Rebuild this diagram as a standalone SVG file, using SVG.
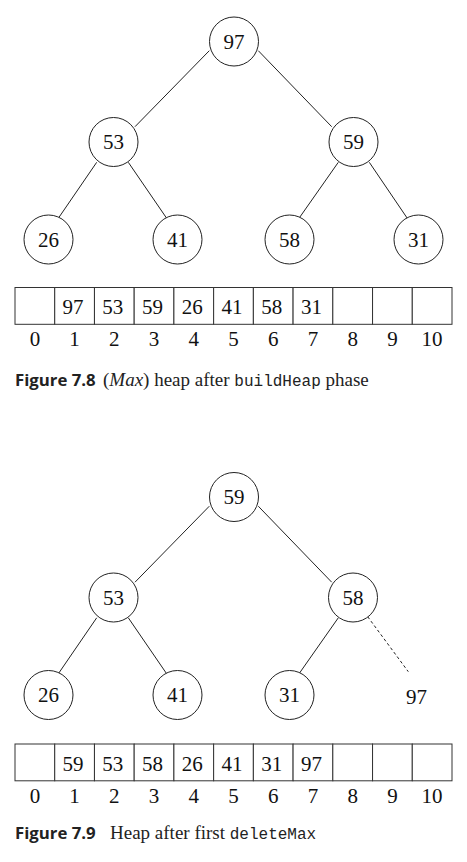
<svg xmlns="http://www.w3.org/2000/svg" width="467" height="862" viewBox="0 0 467 862">
<style>
.edge{stroke:#222;stroke-width:1;fill:none}
.dash{stroke:#222;stroke-width:1;fill:none;stroke-dasharray:3 2.5}
.node circle{fill:#fff;stroke:#222;stroke-width:1}
.t{font-family:"Liberation Serif","Times New Roman",serif;font-size:21px;fill:#111;text-anchor:middle}
.cell{fill:#fff;stroke:#333;stroke-width:1}
.cap{font-family:"Liberation Serif","Times New Roman",serif;font-size:19px;fill:#222}
.mono{font-family:"Liberation Mono","Courier New",monospace;font-size:16px}
.fig{font-family:"Open Sans","Liberation Sans",sans-serif;font-weight:bold;font-size:16.8px;fill:#222}
</style>
<g id="connectors1">
<line class="edge" x1="209.3" y1="50.7" x2="135" y2="126.7"/>
<line class="edge" x1="258.3" y1="50.7" x2="331.7" y2="126.7"/>
<line class="edge" x1="96.7" y1="162.3" x2="58.3" y2="218.3"/>
<line class="edge" x1="128.3" y1="162.3" x2="166.7" y2="218.3"/>
<line class="edge" x1="338.3" y1="162.3" x2="299" y2="218.3"/>
<line class="edge" x1="369.3" y1="162.3" x2="407.3" y2="218.3"/>
</g>
<g id="n97a" class="node"><circle cx="234" cy="41.5" r="24.5"/><text class="t" x="234" y="48.5">97</text></g>
<g id="n53a" class="node"><circle cx="113.5" cy="142" r="24.5"/><text class="t" x="113.5" y="149">53</text></g>
<g id="n59a" class="node"><circle cx="353.5" cy="142" r="24.5"/><text class="t" x="353.5" y="149">59</text></g>
<g id="n26a" class="node"><circle cx="48.5" cy="239.5" r="24.5"/><text class="t" x="48.5" y="246.5">26</text></g>
<g id="n41a" class="node"><circle cx="177.5" cy="239.5" r="24.5"/><text class="t" x="177.5" y="246.5">41</text></g>
<g id="n58a" class="node"><circle cx="289.5" cy="239.5" r="24.5"/><text class="t" x="289.5" y="246.5">58</text></g>
<g id="n31a" class="node"><circle cx="418.5" cy="239.5" r="24.5"/><text class="t" x="418.5" y="246.5">31</text></g>

<g id="array1">
<rect class="cell" x="15" y="287.5" width="39.73" height="36.8"/>
<rect class="cell" x="54.73" y="287.5" width="39.73" height="36.8"/>
<rect class="cell" x="94.45" y="287.5" width="39.73" height="36.8"/>
<rect class="cell" x="134.18" y="287.5" width="39.73" height="36.8"/>
<rect class="cell" x="173.91" y="287.5" width="39.73" height="36.8"/>
<rect class="cell" x="213.64" y="287.5" width="39.73" height="36.8"/>
<rect class="cell" x="253.36" y="287.5" width="39.73" height="36.8"/>
<rect class="cell" x="293.09" y="287.5" width="39.73" height="36.8"/>
<rect class="cell" x="332.82" y="287.5" width="39.73" height="36.8"/>
<rect class="cell" x="372.55" y="287.5" width="39.73" height="36.8"/>
<rect class="cell" x="412.27" y="287.5" width="39.73" height="36.8"/>
<text class="t" x="73.1" y="314">97</text>
<text class="t" x="112.8" y="314">53</text>
<text class="t" x="152.5" y="314">59</text>
<text class="t" x="192.3" y="314">26</text>
<text class="t" x="232" y="314">41</text>
<text class="t" x="271.7" y="314">58</text>
<text class="t" x="311.5" y="314">31</text>
<text class="t" x="34.9" y="346">0</text>
<text class="t" x="74.6" y="346">1</text>
<text class="t" x="114.3" y="346">2</text>
<text class="t" x="154" y="346">3</text>
<text class="t" x="193.8" y="346">4</text>
<text class="t" x="233.5" y="346">5</text>
<text class="t" x="273.2" y="346">6</text>
<text class="t" x="313" y="346">7</text>
<text class="t" x="352.7" y="346">8</text>
<text class="t" x="392.4" y="346">9</text>
<text class="t" x="432.1" y="346">10</text>
</g>
<g id="caption1">
<text class="fig" x="15" y="386">Figure 7.8</text>
<text class="cap" x="103" y="386">(<tspan font-style="italic">Max</tspan>) heap after <tspan class="mono">buildHeap</tspan> phase</text>
</g>

<g id="connectors2">
<line class="edge" x1="209.3" y1="506.2" x2="135" y2="582.2"/>
<line class="edge" x1="258.3" y1="506.2" x2="331.7" y2="582.2"/>
<line class="edge" x1="96.7" y1="617.8" x2="58.3" y2="673.8"/>
<line class="edge" x1="128.3" y1="617.8" x2="166.7" y2="673.8"/>
<line class="edge" x1="338.3" y1="617.8" x2="299" y2="673.8"/>
<line class="dash" x1="367.7" y1="616.7" x2="408.3" y2="671.7"/>
</g>
<g id="n59b" class="node"><circle cx="234" cy="497" r="24.5"/><text class="t" x="234" y="504">59</text></g>
<g id="n53b" class="node"><circle cx="113.5" cy="597.5" r="24.5"/><text class="t" x="113.5" y="604.5">53</text></g>
<g id="n58b" class="node"><circle cx="353" cy="597.5" r="24.5"/><text class="t" x="353" y="604.5">58</text></g>
<g id="n26b" class="node"><circle cx="48.5" cy="695" r="24.5"/><text class="t" x="48.5" y="702">26</text></g>
<g id="n41b" class="node"><circle cx="177.5" cy="695" r="24.5"/><text class="t" x="177.5" y="702">41</text></g>
<g id="n31b" class="node"><circle cx="289.5" cy="695" r="24.5"/><text class="t" x="289.5" y="702">31</text></g>
<g id="n97b" class="node"><text class="t" x="416.5" y="704">97</text></g>

<g id="array2">
<rect class="cell" x="15" y="744" width="39.73" height="36.8"/>
<rect class="cell" x="54.73" y="744" width="39.73" height="36.8"/>
<rect class="cell" x="94.45" y="744" width="39.73" height="36.8"/>
<rect class="cell" x="134.18" y="744" width="39.73" height="36.8"/>
<rect class="cell" x="173.91" y="744" width="39.73" height="36.8"/>
<rect class="cell" x="213.64" y="744" width="39.73" height="36.8"/>
<rect class="cell" x="253.36" y="744" width="39.73" height="36.8"/>
<rect class="cell" x="293.09" y="744" width="39.73" height="36.8"/>
<rect class="cell" x="332.82" y="744" width="39.73" height="36.8"/>
<rect class="cell" x="372.55" y="744" width="39.73" height="36.8"/>
<rect class="cell" x="412.27" y="744" width="39.73" height="36.8"/>
<text class="t" x="73.1" y="770.5">59</text>
<text class="t" x="112.8" y="770.5">53</text>
<text class="t" x="152.5" y="770.5">58</text>
<text class="t" x="192.3" y="770.5">26</text>
<text class="t" x="232" y="770.5">41</text>
<text class="t" x="271.7" y="770.5">31</text>
<text class="t" x="311.5" y="770.5">97</text>
<text class="t" x="34.9" y="803">0</text>
<text class="t" x="74.6" y="803">1</text>
<text class="t" x="114.3" y="803">2</text>
<text class="t" x="154" y="803">3</text>
<text class="t" x="193.8" y="803">4</text>
<text class="t" x="233.5" y="803">5</text>
<text class="t" x="273.2" y="803">6</text>
<text class="t" x="313" y="803">7</text>
<text class="t" x="352.7" y="803">8</text>
<text class="t" x="392.4" y="803">9</text>
<text class="t" x="432.1" y="803">10</text>
</g>
<g id="caption2">
<text class="fig" x="15" y="839">Figure 7.9</text>
<text class="cap" x="110" y="839">Heap after first <tspan class="mono">deleteMax</tspan></text>
</g>
</svg>
